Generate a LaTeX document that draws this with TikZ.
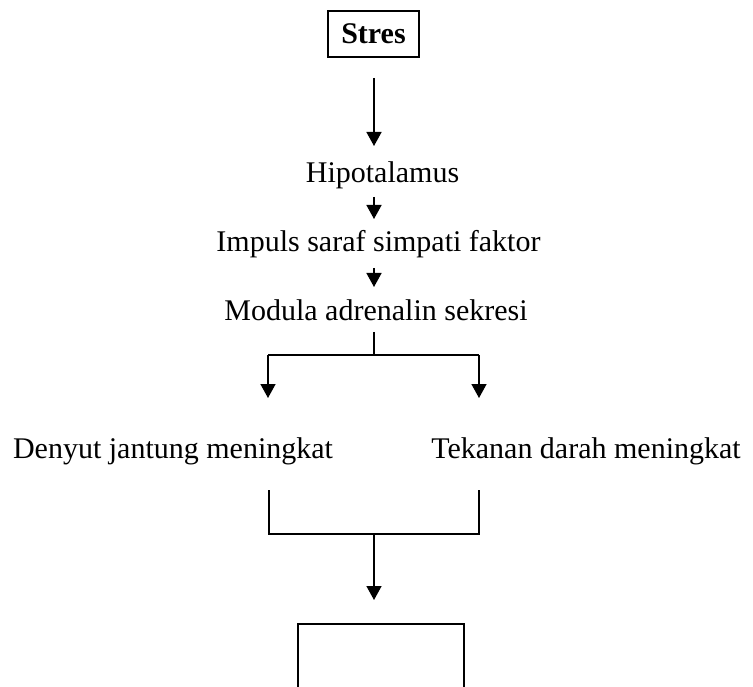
\documentclass[tikz,border=0pt]{standalone}
\usepackage{fontspec}
\setmainfont{Liberation Serif}
\usetikzlibrary{arrows.meta}
\begin{document}
\begin{tikzpicture}[x=1pt,y=-1pt,
  lbl/.style={inner sep=0pt,anchor=base,font=\fontsize{30}{34}\selectfont},
  conn/.style={line width=1.5pt},
  arr/.style={conn,-{Triangle[width=15pt,length=14pt]}},
  boxed/.style={draw,line width=1.5pt,minimum width=91pt,minimum height=46pt,inner sep=0pt,font=\fontsize{30}{34}\selectfont\bfseries}]
\useasboundingbox (0,0) rectangle (753,687);
% nodes
\node[boxed] (stres) at (373.5,34) {Stres};
\node[lbl] (hipo) at (382.5,183) {Hipotalamus};
\node[lbl] (impuls) at (378.5,252) {Impuls saraf simpati faktor};
\node[lbl] (modula) at (376,320) {Modula adrenalin sekresi};
\node[lbl] (denyut) at (173,458) {Denyut jantung meningkat};
\node[lbl] (tekanan) at (586,458) {Tekanan darah meningkat};
% connector points
\coordinate (a1s) at (374,78);  \coordinate (a1e) at (374,146);
\coordinate (a2s) at (374,197); \coordinate (a2e) at (374,219);
\coordinate (a3s) at (374,268); \coordinate (a3e) at (374,287);
\coordinate (b0) at (374,332); \coordinate (bm) at (374,355);
\coordinate (bl) at (268,355); \coordinate (br) at (479,355);
\coordinate (ble) at (268,398); \coordinate (bre) at (479,398);
\coordinate (cl) at (269,490); \coordinate (cr) at (479,490);
\coordinate (cbl) at (269,534); \coordinate (cbr) at (479,534);
\coordinate (cm) at (374,534); \coordinate (ce) at (374,600);
% connectors
\draw[arr] (a1s) -- (a1e);
\draw[arr] (a2s) -- (a2e);
\draw[arr] (a3s) -- (a3e);
\draw[conn] (b0) -- (bm);
\draw[conn] (bl) -- (br);
\draw[arr] (bl) -- (ble);
\draw[arr] (br) -- (bre);
\draw[conn] (cl) -- (cbl) -- (cbr) -- (cr);
\draw[arr] (cm) -- (ce);
% bottom (cut-off) box
\draw[conn] (298,687) -- (298,624) -- (464,624) -- (464,687);
\end{tikzpicture}
\end{document}
